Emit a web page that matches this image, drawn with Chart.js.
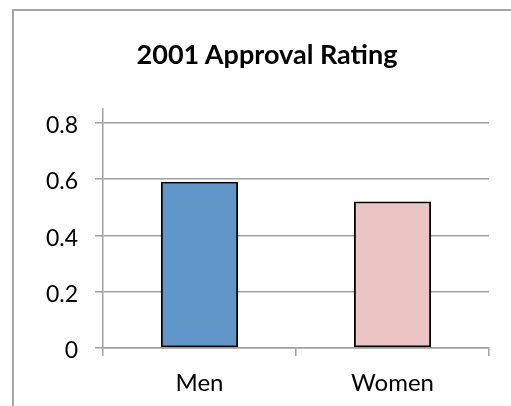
<!DOCTYPE html>
<html lang="en">
<head>
    <meta charset="UTF-8">
    <title>2001 Approval Rating</title>
    <style>
        html, body {
            margin: 0;
            padding: 0;
            background: white;
            overflow: hidden;
        }
        .wrap {
            position: relative;
            width: 511px;
            height: 406px;
            overflow: hidden;
        }
        .frame {
            position: absolute;
            left: 12px;
            top: 9px;
            width: 800px;
            height: 800px;
            border-left: 2px solid #a6a6a6;
            border-top: 2px solid #a6a6a6;
        }
        .title {
            position: absolute;
            left: 67px;
            width: 400px;
            top: 40px;
            text-align: center;
            white-space: nowrap;
            font-family: Lato, "Open Sans", sans-serif;
            font-weight: bold;
            font-size: 27px;
            line-height: 27px;
            color: #000;
        }
        canvas {
            position: absolute;
            left: 0;
            top: 0;
        }
    </style>
</head>
<body>
    <div class="wrap">
        <div class="frame"></div>
        <canvas id="chart" width="511" height="406"></canvas>
        <div class="title">2001 Approval Rating</div>
    </div>

    <script src="https://cdn.jsdelivr.net/npm/chart.js"></script>
    <script>
const categories = ['Men', 'Women'];
const approval = [0.59, 0.52];
const barColors = ['#6096c9', '#eac5c4'];
const yTicks = [0, 0.2, 0.4, 0.6, 0.8];

const font = 'Lato, "Open Sans", sans-serif';

const ctx = document.getElementById('chart').getContext('2d');
new Chart(ctx, {
    type: 'bar',
    data: {
        labels: categories,
        datasets: [{
            label: '2001 Approval Rating',
            data: approval,
            backgroundColor: barColors,
            borderColor: '#000',
            borderWidth: 2,
            borderSkipped: false,
            barPercentage: 0.4,
            categoryPercentage: 1
        }]
    },
    options: {
        responsive: false,
        animation: false,
        layout: { padding: { left: 0, right: 22, top: 108.6, bottom: 0 } },
        plugins: {
            legend: { display: false },
            tooltip: { enabled: false },
            title: { display: false }
        },
        scales: {
            x: {
                grid: {
                    offset: true,
                    drawOnChartArea: false,
                    drawTicks: true,
                    tickLength: 8,
                    color: '#a0a0a0',
                    lineWidth: 1.5
                },
                border: { color: '#a0a0a0', width: 1.5 },
                ticks: {
                    color: '#000',
                    padding: 13,
                    font: { family: font, size: 24 }
                },
                afterFit: function(scale) { scale.height = 58; }
            },
            y: {
                min: 0,
                max: 0.85,
                afterBuildTicks: function(scale) {
                    scale.ticks = yTicks.map(v => ({ value: v }));
                },
                grid: {
                    color: '#a0a0a0',
                    lineWidth: 1.5,
                    tickLength: 8
                },
                border: { color: '#a0a0a0', width: 1.5 },
                ticks: {
                    color: '#000',
                    padding: 17,
                    labelOffset: 3,
                    font: { family: font, size: 23 },
                    callback: function(v) { return String(Math.round(v * 10) / 10); }
                },
                afterFit: function(scale) { scale.width = 103; }
            }
        }
    }
});
    </script>
</body>
</html>
